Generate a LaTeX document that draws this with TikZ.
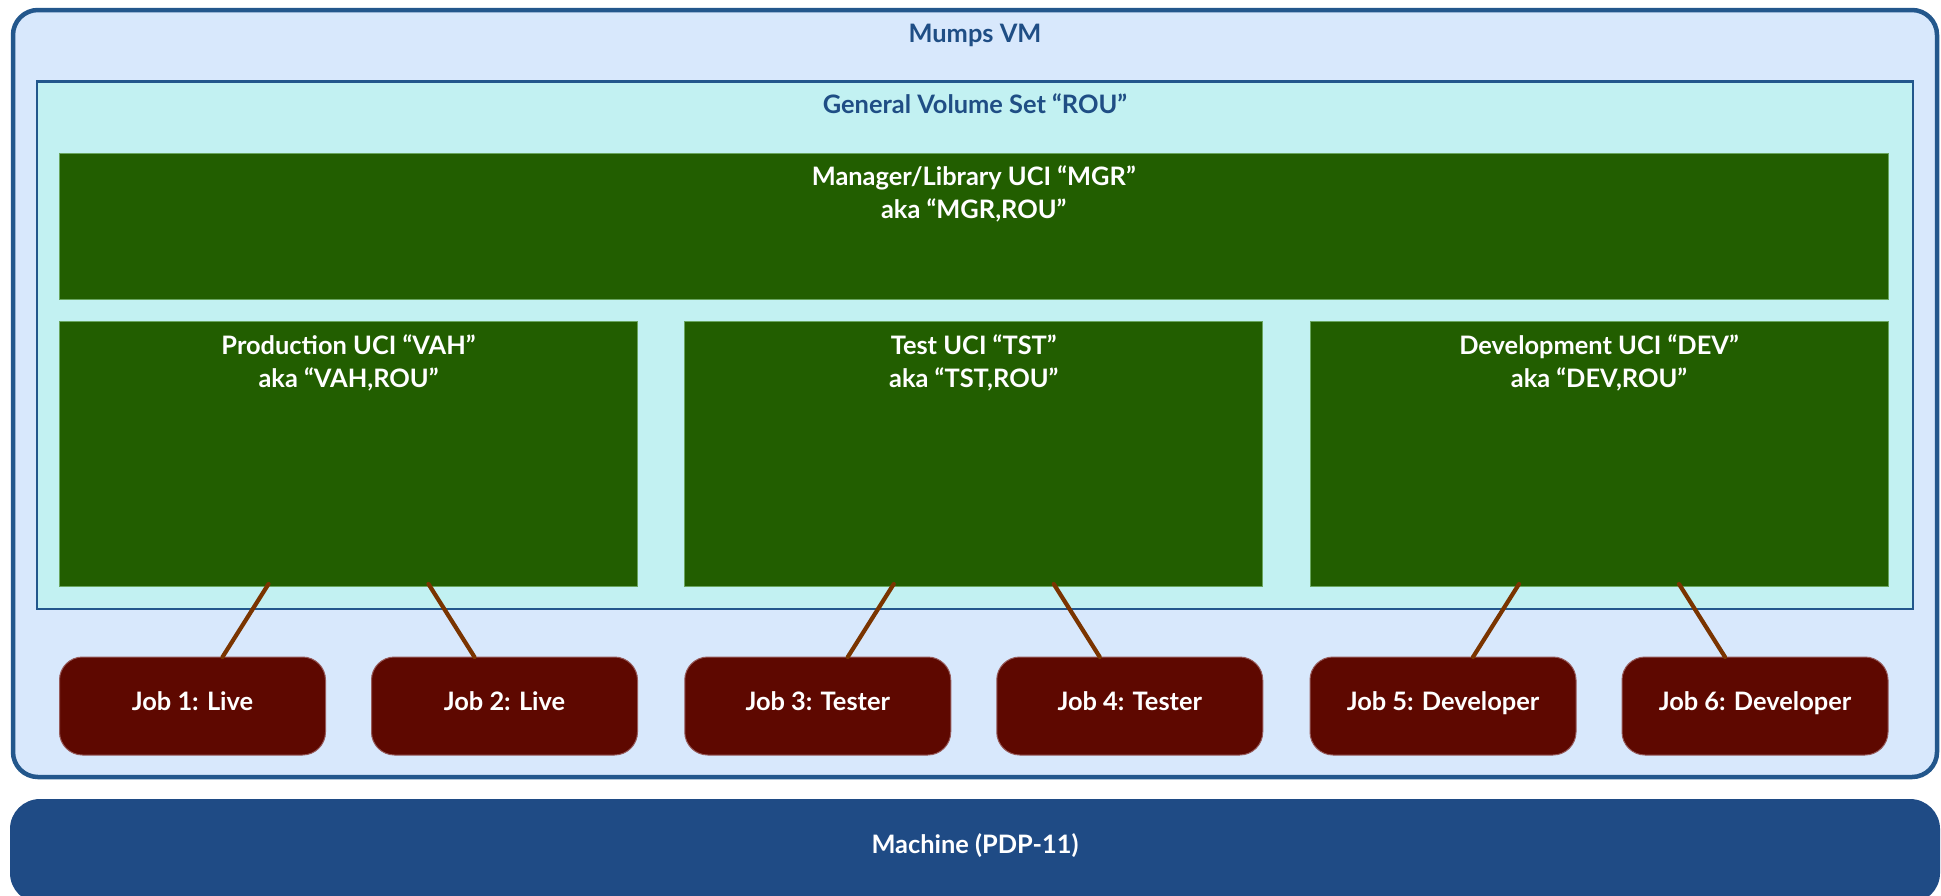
\documentclass[tikz,border=0pt]{standalone}
\usepackage{fontspec}
\setmainfont{Lato}
\usetikzlibrary{positioning}
\definecolor{vmfill}{RGB}{216,232,252}
\definecolor{vmline}{RGB}{35,87,140}
\definecolor{setfill}{RGB}{194,241,242}
\definecolor{ucifill}{RGB}{34,94,0}
\definecolor{uciline}{RGB}{105,165,95}
\definecolor{jobfill}{RGB}{94,8,0}
\definecolor{jobline}{RGB}{150,90,90}
\definecolor{linkcol}{RGB}{122,52,0}
\definecolor{machfill}{RGB}{31,75,133}
\definecolor{titlecol}{RGB}{31,78,133}

\begin{document}
\begin{tikzpicture}[x=0.5pt,y=-0.5pt,font=\fontsize{12.7}{16.5}\selectfont\bfseries]
    \tikzstyle{box}=[rectangle,inner sep=0pt,outer sep=0pt]
    \tikzstyle{machine box}=[box,fill=machfill,rounded corners=15pt,minimum width=965pt,minimum height=52pt]
    \tikzstyle{vm box}=[box,fill=vmfill,draw=vmline,line width=2.25pt,rounded corners=12.5pt,minimum width=962pt,minimum height=383.5pt]
    \tikzstyle{set box}=[box,fill=setfill,draw=vmline,line width=1.25pt,minimum width=938pt,minimum height=263.75pt]
    \tikzstyle{uci box}=[box,fill=ucifill,draw=uciline,line width=0.5pt,minimum height=132.5pt,minimum width=289pt]
    \tikzstyle{job box}=[box,fill=jobfill,draw=jobline,line width=0.5pt,rounded corners=11.5pt,minimum width=133pt,minimum height=49pt,text=white,text height=0.7em,text depth=0.3em]
    \tikzstyle{title}=[anchor=base,text=titlecol]
    \tikzstyle{white text}=[anchor=base,text=white,align=center]
    \tikzstyle{link}=[draw=linkcol,line width=2.1pt,line cap=round]

    \clip (0,0) rectangle (1941,895);

    \node[machine box] (M) at (975,851) {};
    \node[white text] at ([yshift=-27pt]M.north) {Machine (PDP-11)};

    \node[vm box] (VM) at (975,393.5) {};
    \node[title] at ([yshift=-16pt]VM.north) {Mumps VM};

    \node[set box] (ROU) at (975,345.25) {};
    \node[title] at ([yshift=-15.75pt]ROU.north) {General Volume Set “ROU”};

    % two lines: base is the second one
    \node[uci box, minimum width=914.25pt, minimum height=73pt] (MGR) at (973.75,226) {};
    \node[white text] at ([yshift=-32.5pt]MGR.north) {Manager/Library UCI “MGR”\\aka “MGR,ROU”};

    \foreach \ind/\x/\kind/\code in {1/348.5/Production/VAH,2/973.75/Test/TST,3/1599/Development/DEV}
    {
        \node[uci box] (U-\ind) at (\x,453.5) {};
        \node[white text] at ([yshift=-33pt]U-\ind.north) {\kind{} UCI “\code”\\aka “\code,ROU”};
    }

    \foreach \ind/\x/\who in {1/192.5/Live,2/504.5/Live,3/817.75/Tester,4/1129.75/Tester,5/1443/Developer,6/1755/Developer}
        \node[job box] (J-\ind) at (\x,706) {Job \ind: \who};

    \foreach \job/\uci/\ux/\jx in {1/1/-40/15,2/1/40/-15,3/2/-40/15,4/2/40/-15,5/3/-40/15,6/3/40/-15}
        \path[link] ([xshift=\ux pt,yshift=1pt]U-\uci.south) edge ([xshift=\jx pt]J-\job.north);
\end{tikzpicture}
\end{document}
